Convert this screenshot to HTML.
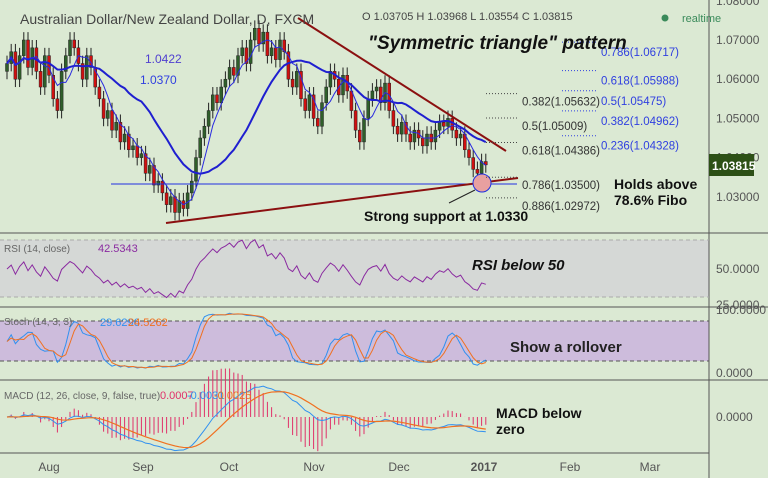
<!DOCTYPE html>
<html><head><meta charset="utf-8"><style>
body{margin:0;background:#dbe9d3;}
svg{display:block;font-family:"Liberation Sans",sans-serif;}
</style></head><body>
<svg id="c" width="768" height="478" viewBox="0 0 768 478" xmlns="http://www.w3.org/2000/svg">
<rect x="0" y="0" width="768" height="478" fill="#dbe9d3"/>
<rect x="0" y="240" width="709" height="57" fill="#d5d8d6"/>
<rect x="0" y="321" width="709" height="40" fill="#cdbcdc"/>
<g id="grid"></g>
<g id="marks"></g>
<g id="labels"></g>
</svg>
<script>
const closes=[1.064,1.067,1.060,1.066,1.070,1.063,1.068,1.062,1.058,1.066,
1.061,1.055,1.052,1.062,1.066,1.070,1.068,1.064,1.060,1.066,1.063,1.058,1.055,1.050,1.052,1.047,1.049,1.044,1.046,1.042,1.043,1.040,
1.041,1.036,1.038,1.033,1.034,1.031,1.028,1.030,1.026,1.029,1.027,1.031,1.034,1.040,1.045,1.048,1.052,1.056,1.054,1.058,1.060,
1.063,1.061,1.066,1.068,1.064,1.070,1.073,1.069,1.072,1.066,1.068,1.065,1.070,1.067,1.060,1.058,1.062,1.055,1.052,1.056,1.050,
1.048,1.054,1.058,1.062,1.060,1.056,1.061,1.057,1.052,1.047,1.044,1.050,1.055,1.057,1.058,1.054,1.059,1.052,1.048,1.046,1.049,
1.046,1.044,1.047,1.045,1.043,1.046,1.044,1.047,1.049,1.048,1.050,1.047,1.045,1.046,1.042,1.040,1.037,1.036,1.039,1.03815];
const priceTicks=[1.08,1.07,1.06,1.05,1.04,1.03];
const monthLabels=["Aug","Sep","Oct","Nov","Dec","2017","Feb","Mar"];
const monthX=[49,143,229,314,399,484,570,650];
const fibLeft=[["0.382(1.05632)",1.05632],["0.5(1.05009)",1.05009],["0.618(1.04386)",1.04386],["0.786(1.03500)",1.035],["0.886(1.02972)",1.02972]];
const fibRight=[["0.786(1.06717)",1.06717],["0.618(1.05988)",1.05988],["0.5(1.05475)",1.05475],["0.382(1.04962)",1.04962],["0.236(1.04328)",1.04328]];
const rsiTicks=[50,25];const stochTicks=[100,0];

const NS="http://www.w3.org/2000/svg";
const marks=document.getElementById('marks'),lab=document.getElementById('labels'),grid=document.getElementById('grid');
function mk(p,t,a){const e=document.createElementNS(NS,t);for(const k in a)e.setAttribute(k,a[k]);p.appendChild(e);return e;}
const xs=i=>7+i*4.2;
const yp=p=>40+(1.07-p)*3920;
const yr=v=>269-(v-50)*1.43;
const ys=v=>373-v*0.63;
const ym=v=>417-v*4200;

let e;
e=mk(grid,'line',{x1:0,y1:233,x2:768,y2:233,stroke:'#555','stroke-width':1});

e=mk(grid,'line',{x1:0,y1:307,x2:768,y2:307,stroke:'#555','stroke-width':1});

e=mk(grid,'line',{x1:0,y1:380,x2:768,y2:380,stroke:'#555','stroke-width':1});

e=mk(grid,'line',{x1:0,y1:453,x2:709,y2:453,stroke:'#555','stroke-width':1});

e=mk(grid,'line',{x1:709,y1:0,x2:709,y2:478,stroke:'#555','stroke-width':1});

[[240,'#aaa'],[297,'#aaa'],[321,'#555'],[361,'#555']].forEach(([y,c])=>{
 const l=mk(grid,'line',{x1:0,y1:y,x2:709,y2:y,stroke:c,'stroke-dasharray':'4,3'});
 
});
priceTicks.forEach(p=>{const t=mk(grid,'text',{x:716,y:yp(p)+4,'font-size':12,fill:'#555'});t.textContent=p.toFixed(5);
 });
rsiTicks.forEach(v=>{const t=mk(grid,'text',{x:716,y:yr(v)+4,'font-size':12,fill:'#555'});t.textContent=v.toFixed(4);
 });
stochTicks.forEach(v=>{const t=mk(grid,'text',{x:716,y:ys(v)+4,'font-size':12,fill:'#555'});t.textContent=v.toFixed(4);
 });
e=mk(grid,'text',{x:716,y:421,'font-size':12,fill:'#555'});e.textContent='0.0000';

monthLabels.forEach((m,i)=>{const t=mk(grid,'text',{x:monthX[i],y:471,'font-size':12,fill:'#555','text-anchor':'middle','font-weight':m==='2017'?'bold':'normal'});t.textContent=m;
 });

closes.forEach((c,i)=>{
 const o=i?closes[i-1]:c-0.002;const hi=Math.max(o,c)+0.002,lo=Math.min(o,c)-0.002;
 const col=c>=o?'#2f5f2a':'#d01010';
 const w=mk(marks,'line',{x1:xs(i),y1:yp(hi),x2:xs(i),y2:yp(lo),stroke:'#222','stroke-width':1});
 
 const b=mk(marks,'rect',{x:xs(i)-1.5,y:yp(Math.max(o,c)),width:3,height:Math.max(1,Math.abs(yp(o)-yp(c))),fill:col,stroke:'#222','stroke-width':0.5});
 
});
function sma(a,n){return a.map((_,i)=>{const s=a.slice(Math.max(0,i-n+1),i+1);return s.reduce((x,y)=>x+y,0)/s.length;});}
function ema(a,n,seed){const k=2/(n+1);let r=[];a.forEach((v,i)=>r.push(i?v*k+r[i-1]*(1-k):(seed===undefined?v:seed)));return r;}
function poly(arr,yf,col,w,name,start){start=start||0;const p=mk(marks,'polyline',{points:arr.map((v,i)=>xs(i)+','+yf(v)).slice(start).join(' '),fill:'none',stroke:col,'stroke-width':w});
 return p;}
poly(sma(closes,20),yp,'#1f1fd0',2,'ma-20-line');
poly(sma(closes,5),yp,'#2a2ae0',1,'ma-5-line');

e=mk(marks,'line',{x1:111,y1:184,x2:517,y2:184,stroke:'#2030e0','stroke-width':1});

e=mk(marks,'line',{x1:166,y1:223,x2:518,y2:178,stroke:'#8b1010','stroke-width':2});

e=mk(marks,'line',{x1:298,y1:18,x2:506,y2:151,stroke:'#8b1010','stroke-width':2});

e=mk(marks,'circle',{cx:482,cy:183,r:9,fill:'#e8a0a0',stroke:'#2030e0','stroke-width':1});

e=mk(marks,'line',{x1:475,y1:190,x2:449,y2:203,stroke:'#222','stroke-width':1});


fibLeft.forEach(([s,v])=>{const y=yp(v);
 const l=mk(marks,'line',{x1:486,y1:y,x2:518,y2:y,stroke:'#444','stroke-dasharray':'1,2'});
 const t=mk(lab,'text',{x:522,y:y+12,'font-size':11.5,fill:'#333'});t.textContent=s;});
fibRight.forEach(([s,v])=>{const y=yp(v);
 const l=mk(marks,'line',{x1:562,y1:y-9,x2:598,y2:y-9,stroke:'#3040e0','stroke-dasharray':'1,2'});
 const t=mk(lab,'text',{x:601,y:y+5,'font-size':11.5,fill:'#3040e0'});t.textContent=s;});

let gains=[],losses=[];closes.forEach((c,i)=>{const d=i?c-closes[i-1]:0;gains.push(Math.max(d,0));losses.push(Math.max(-d,0));});
const ag=ema(gains,27,0.002),al=ema(losses,27,0.002);
const rsi=ag.map((g,i)=>100-100/(1+g/(al[i]||1e-9)));
poly(rsi.map(v=>Math.max(22,Math.min(78,v))),yr,'#8a2aa0',1,'rsi-line');
const kraw=closes.map((c,i)=>{const s=closes.slice(Math.max(0,i-13),i+1);const h=Math.max(...s)+0.002,l=Math.min(...s)-0.002;return 100*(c-l)/(h-l);});
const kline=sma(kraw,3),dline=sma(kline,3);
poly(kline,ys,'#3090f0',1,'stoch-k-line');
poly(dline,ys,'#f07020',1,'stoch-d-line');
const e12=ema(closes,12),e26=ema(closes,26);const macd=e12.map((v,i)=>v-e26[i]);const sig=ema(macd,9);
macd.forEach((m,i)=>{const h=m-sig[i];const b=mk(marks,'line',{x1:xs(i),y1:ym(0),x2:xs(i),y2:ym(h*3),stroke:'#e0306a','stroke-width':1});
 });
poly(macd,ym,'#3090f0',1,'macd-line');
poly(sig,ym,'#f07020',1.2,'macd-signal-line');

function txt(x,y,s,a,name){const t=mk(lab,'text',Object.assign({x:x,y:y},a));t.textContent=s;return t;}
txt(20,24,'Australian Dollar/New Zealand Dollar, D, FXCM',{'font-size':14,fill:'#444'},'chart-title');
txt(362,20,'O 1.03705  H 1.03968  L 1.03554  C 1.03815',{'font-size':11,fill:'#444'},'ohlc-readout');
txt(682,22,'realtime',{'font-size':11,fill:'#3a8a5a'},'realtime-label');
e=mk(lab,'circle',{cx:665,cy:18,r:3.5,fill:'#3a8a5a'});
txt(145,63,'1.0422',{'font-size':12,fill:'#5040d0'},'ma20-value');
txt(140,84,'1.0370',{'font-size':12,fill:'#3040e0'},'ma5-value');
txt(368,49,'"Symmetric triangle" pattern',{'font-size':19,'font-weight':'bold','font-style':'italic',fill:'#111'},'pattern-annotation');
txt(364,221,'Strong support at 1.0330',{'font-size':14,'font-weight':'bold',fill:'#111'},'support-annotation');
txt(614,189,'Holds above',{'font-size':14,'font-weight':'bold',fill:'#111'},'fibo-annotation-1');
txt(614,205,'78.6% Fibo',{'font-size':14,'font-weight':'bold',fill:'#111'},'fibo-annotation-2');
e=mk(lab,'rect',{x:709,y:154,width:45,height:22,fill:'#2d5016'});
txt(712,170,'1.03815',{'font-size':12,'font-weight':'bold',fill:'#fff'},'last-price-label');
txt(4,252,'RSI (14, close)',{'font-size':10,fill:'#666'},'rsi-legend');
txt(98,252,'42.5343',{'font-size':11,fill:'#8a2aa0'},'rsi-value');
txt(472,270,'RSI below 50',{'font-size':15,'font-weight':'bold','font-style':'italic',fill:'#111'},'rsi-annotation');
txt(4,325,'Stoch (14, 3, 3)',{'font-size':10,fill:'#666'},'stoch-legend');
txt(100,326,'29.6296',{'font-size':11,fill:'#3090f0'},'stoch-k-value');
txt(128,326,'24.5262',{'font-size':11,fill:'#f07020'},'stoch-d-value');
txt(510,352,'Show a rollover',{'font-size':15,'font-weight':'bold',fill:'#222'},'stoch-annotation');
txt(4,399,'MACD (12, 26, close, 9, false, true)',{'font-size':10,fill:'#666'},'macd-legend');
txt(160,399,'0.0007',{'font-size':11,fill:'#e0306a'},'macd-hist-value');
txt(187,399,'-0.0031',{'font-size':11,fill:'#3090f0'},'macd-value');
txt(214,399,'-0.0025',{'font-size':11,fill:'#f07020'},'macd-signal-value');
txt(496,418,'MACD below',{'font-size':14,'font-weight':'bold',fill:'#111'},'macd-annotation-1');
txt(496,434,'zero',{'font-size':14,'font-weight':'bold',fill:'#111'},'macd-annotation-2');
</script>
</body></html>
